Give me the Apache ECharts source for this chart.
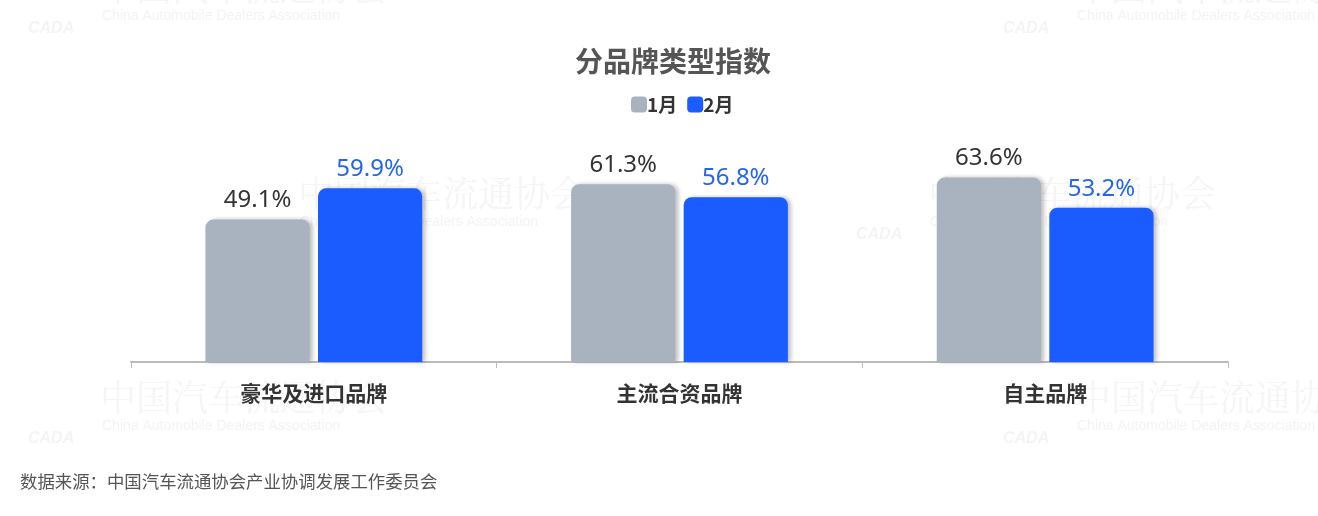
<!DOCTYPE html>
<html><head><meta charset="utf-8">
<script src="https://cdn.jsdelivr.net/npm/echarts@6/dist/echarts.min.js"></script>
<style>html,body{margin:0;padding:0;background:#fff}#c{width:1318px;height:516px}</style>
</head><body><div id="c"></div>
<script>
const categories = ['豪华及进口品牌', '主流合资品牌', '自主品牌'];
const seriesNames = ['1月', '2月'];
const jan = [49.1, 61.3, 63.6];
const feb = [59.9, 56.8, 53.2];
const titleText = '分品牌类型指数';
const sourceText = '数据来源：中国汽车流通协会产业协调发展工作委员会';

// watermark anchors: [left, centre of English line]
const wmSpots = [[100, 17], [1075, 17], [298, 223], [928, 223], [100, 427], [1075, 427]];
const wm = [];
wmSpots.forEach(([x, y]) => {
  wm.push({type: 'text', left: x, top: y - 48, z: 0, silent: true,
    style: {text: '中国汽车流通协会', fill: 'rgba(200,200,200,0.18)', font: '36px "Noto Serif CJK SC", serif'}});
  wm.push({type: 'text', left: x + 2, top: y - 8, z: 0, silent: true,
    style: {text: 'China Automobile Dealers Association', fill: 'rgba(200,200,200,0.22)', font: '14px "Liberation Sans", Arial, sans-serif'}});
  wm.push({type: 'text', left: x - 72, top: y + 4, z: 0, silent: true,
    style: {text: 'CADA', fill: 'rgba(200,200,200,0.2)', font: 'italic bold 16px "Liberation Sans", Arial, sans-serif'}});
});

const chart = echarts.init(document.getElementById('c'));
chart.setOption({
  backgroundColor: '#fff',
  animation: false,
  title: {
    text: titleText, left: 570, top: 42,
    textStyle: {fontSize: 28, fontWeight: 'bold', color: '#555', fontFamily: '"Noto Sans CJK SC", sans-serif'}
  },
  legend: {
    data: seriesNames, top: 90, left: 626, itemWidth: 16, itemHeight: 16, itemGap: 10,
    icon: 'roundRect',
    textStyle: {fontSize: 19, fontWeight: 'bold', color: '#333', fontFamily: '"Noto Sans CJK SC", sans-serif', padding: [0, 0, 0, -5]}
  },
  grid: {left: 131, right: 90, top: 72, bottom: 154},
  xAxis: {
    type: 'category', data: categories,
    axisLine: {lineStyle: {color: '#bbb', width: 2}},
    axisTick: {show: true, length: 6, lineStyle: {color: '#bbb', width: 1}},
    axisLabel: {fontSize: 21, fontWeight: 'bold', color: '#333', margin: 21, fontFamily: '"Noto Sans CJK SC", sans-serif'}
  },
  yAxis: {type: 'value', min: 0, max: 100, show: false, splitLine: {show: false}},
  series: [
    {name: seriesNames[0], type: 'bar', data: jan, barWidth: '28.5%', barGap: '8%',
     itemStyle: {color: '#a9b2bf', borderRadius: [8, 8, 0, 0], shadowColor: 'rgba(0,0,0,0.25)', shadowBlur: 4, shadowOffsetX: 3, shadowOffsetY: 0},
     label: {show: true, position: 'top', distance: 7, formatter: '{c}%', fontSize: 24, color: '#333', fontFamily: '"Noto Sans", sans-serif'}},
    {name: seriesNames[1], type: 'bar', data: feb, barWidth: '28.5%',
     itemStyle: {color: '#1a5cff', borderRadius: [8, 8, 0, 0], shadowColor: 'rgba(0,0,0,0.25)', shadowBlur: 4, shadowOffsetX: 3, shadowOffsetY: 0},
     label: {show: true, position: 'top', distance: 7, formatter: '{c}%', fontSize: 24, color: '#2566e8', fontFamily: '"Noto Sans", sans-serif'}}
  ],
  graphic: wm.concat([
    {type: 'text', left: 20, top: 473, style: {text: sourceText, fill: '#555', font: '17.4px "Noto Sans CJK SC", sans-serif'}}
  ])
});
</script></body></html>
